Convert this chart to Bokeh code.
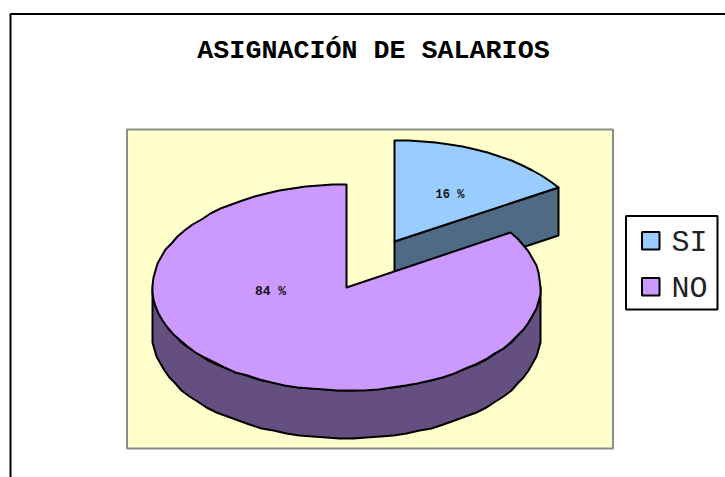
import numpy as np
from bokeh.core.properties import value
from bokeh.embed import file_html
from bokeh.models import Range1d
from bokeh.plotting import figure
from bokeh.resources import INLINE

categories = ["SI", "NO"]
percent = [16, 84]
top_colors = ["#99CCFF", "#CC99FF"]
wall_colors = ["#4F6A85", "#654E80"]
title = "ASIGNACIÓN DE SALARIOS"

# pixel-like data space
W, H = 725, 477
p = figure(width=W, height=H, output_backend="svg", toolbar_location=None,
           x_range=Range1d(0, W), y_range=Range1d(H, 0),
           min_border=0, outline_line_color=None)
p.axis.visible = False
p.grid.visible = False

# chart frame
p.quad(left=[10], right=[800], top=[13.5], bottom=[600], fill_color="white",
       line_color="black", line_width=2)
# plot area
p.quad(left=[126.5], right=[612.5], top=[129], bottom=[448], fill_color="#FFFFCC",
       line_color="#8C8C8C", line_width=2)

RX, DEPTH = 194, 48
RYS = [101, 103]
CENTERS = [(394, 241), (346, 287)]


def arc(c, ry, a0, a1, step=4.0):
    n = max(2, int(abs(a1 - a0) / step) + 1)
    t = np.radians(np.linspace(a0, a1, n))
    return np.round(c[0] + RX * np.sin(t)), np.round(c[1] - ry * np.cos(t))


split = percent[0] / sum(percent) * 360

# SI: cut face, then top
c, ry = CENTERS[0], RYS[0]
ex, ey = arc(c, ry, split, split, 1)
ex, ey = ex[0], ey[0]
p.patch([c[0], ex, ex, c[0]], [c[1], ey, ey + DEPTH, c[1] + DEPTH],
        fill_color=wall_colors[0], line_color="black", line_width=2)
ax, ay = arc(c, ry, 0, split)
p.patch(np.r_[c[0], ax], np.r_[c[1], ay], fill_color=top_colors[0],
        line_color="black", line_width=2, line_join="round")

# NO: outer wall, then top
c, ry = CENTERS[1], RYS[1]
wx, wy = arc(c, ry, 90, 270)
p.patch(np.r_[wx, wx[::-1]], np.r_[wy, wy[::-1] + DEPTH], fill_color=wall_colors[1],
        line_color="black", line_width=2, line_join="round")
ax, ay = arc(c, ry, split, 360)
p.patch(np.r_[c[0], ax], np.r_[c[1], ay], fill_color=top_colors[1],
        line_color="black", line_width=2, line_join="round")

# texts
p.text(x=[373], y=[50], text=[title], text_font=value("Liberation Mono"),
       text_font_style="bold", text_font_size="26.7px", text_align="center",
       text_baseline="middle", text_color="black")
p.text(x=[449.5], y=[194], text=[f"{percent[0]} %"], text_font=value("Liberation Mono"),
       text_font_style="bold", text_font_size="12px", text_align="center",
       text_baseline="middle", text_color="#111111")
p.text(x=[270], y=[291], text=[f"{percent[1]} %"], text_font=value("Liberation Mono"),
       text_font_style="bold", text_font_size="13px", text_align="center",
       text_baseline="middle", text_color="#111111")

# legend
p.quad(left=[625.5], right=[717], top=[215.5], bottom=[309], fill_color="white",
       line_color="black", line_width=2)
p.quad(left=[641.5, 641.5], right=[659, 659], top=[231.5, 277.5], bottom=[249, 295],
       fill_color=top_colors, line_color="black", line_width=2)
p.text(x=[689, 689], y=[242, 288], text=categories, text_font=value("Liberation Mono"),
       text_font_size="30px", text_align="center", text_baseline="middle",
       text_color="#222222")

open("out.html", "w").write(file_html(p, INLINE))
